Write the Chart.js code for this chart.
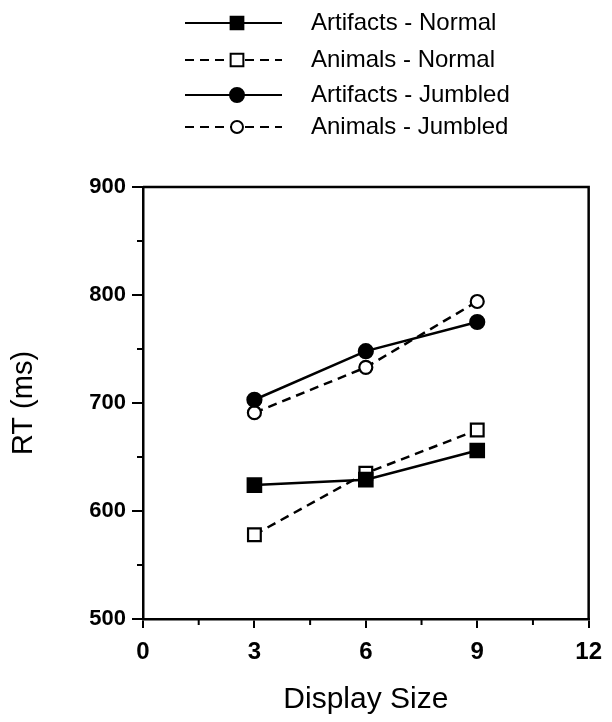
<!DOCTYPE html>
<html lang="en">
<head>
    <meta charset="UTF-8">
    <title>RT by Display Size</title>
    <script src="https://cdn.jsdelivr.net/npm/chart.js"></script>
    <style>
        html, body { margin: 0; padding: 0; background: #fff; }
        #wrap { width: 612px; height: 722px; }
    </style>
</head>
<body>
    <div id="wrap"><canvas id="rtChart" width="612" height="722"></canvas></div>

    <script>
        // values
        const displaySizes = [3, 6, 9];
        const artifactsNormal = [624, 629, 656];
        const animalsNormal = [578, 635, 675];
        const artifactsJumbled = [703, 748, 775];
        const animalsJumbled = [691, 733, 794];

        const seriesNames = ['Artifacts - Normal', 'Animals - Normal', 'Artifacts - Jumbled', 'Animals - Jumbled'];
        const xMajorTicks = [0, 3, 6, 9, 12];
        const xMinorTicks = [1.5, 4.5, 7.5, 10.5];
        const yMajorTicks = [500, 600, 700, 800, 900];
        const yMinorTicks = [550, 650, 750, 850];

        const FONT = '"Liberation Sans", Arial, Helvetica, sans-serif';

        function toPoints(ys) {
            return displaySizes.map((x, i) => ({ x: x, y: ys[i] }));
        }

        function makeSet(label, ys, style, filled, dashed, radius) {
            return {
                label: label,
                data: toPoints(ys),
                showLine: true,
                borderColor: '#000',
                borderWidth: 2.5,
                borderDash: dashed ? [9, 6] : [],
                pointStyle: style,
                pointRadius: radius,
                pointBorderWidth: 2.2,
                pointBorderColor: '#000',
                pointBackgroundColor: filled ? '#000' : '#fff'
            };
        }

        // legend rows, box border and minor ticks
        const extras = {
            id: 'extras',
            afterDraw(chart) {
                const ctx = chart.ctx;
                const a = chart.chartArea;
                const xs = chart.scales.x, ys = chart.scales.y;
                ctx.save();
                ctx.strokeStyle = '#000';
                ctx.lineWidth = 2.5;
                ctx.beginPath();
                ctx.moveTo(a.left, a.top);
                ctx.lineTo(a.right, a.top);
                ctx.lineTo(a.right, a.bottom);
                ctx.stroke();

                ctx.lineWidth = 2;
                ctx.beginPath();
                yMinorTicks.forEach(v => {
                    const py = ys.getPixelForValue(v);
                    ctx.moveTo(a.left - 6, py);
                    ctx.lineTo(a.left, py);
                });
                xMinorTicks.forEach(v => {
                    const px = xs.getPixelForValue(v);
                    ctx.moveTo(px, a.bottom);
                    ctx.lineTo(px, a.bottom + 6);
                });
                ctx.stroke();

                // legend
                const rowY = [23, 60, 95, 127];
                chart.data.datasets.forEach((ds, i) => {
                    const y = rowY[i];
                    ctx.setLineDash(ds.borderDash);
                    ctx.lineWidth = 2;
                    ctx.beginPath();
                    ctx.moveTo(185, y);
                    ctx.lineTo(282, y);
                    ctx.stroke();
                    ctx.setLineDash([]);
                    ctx.fillStyle = ds.pointBackgroundColor;
                    ctx.lineWidth = 2;
                    Chart.helpers.drawPoint(ctx, {
                        pointStyle: ds.pointStyle,
                        radius: ds.pointStyle === 'rect' ? 9 : (i === 2 ? 7 : 6),
                        rotation: 0,
                        borderWidth: 2
                    }, 237, y);
                    ctx.fillStyle = '#000';
                    ctx.font = '24px ' + FONT;
                    ctx.textBaseline = 'middle';
                    ctx.textAlign = 'left';
                    ctx.fillText(seriesNames[i], 311, y);
                });
                ctx.restore();
            }
        };

        new Chart(document.getElementById('rtChart'), {
            type: 'scatter',
            data: {
                datasets: [
                    makeSet(seriesNames[0], artifactsNormal, 'rect', true, false, 9.5),
                    makeSet(seriesNames[1], animalsNormal, 'rect', false, true, 9),
                    makeSet(seriesNames[2], artifactsJumbled, 'circle', true, false, 7),
                    makeSet(seriesNames[3], animalsJumbled, 'circle', false, true, 6.5)
                ]
            },
            options: {
                responsive: false,
                animation: false,
                layout: { padding: { top: 187, right: 21, left: 0, bottom: 0 } },
                plugins: { legend: { display: false }, tooltip: { enabled: false } },
                scales: {
                    x: {
                        type: 'linear',
                        min: 0,
                        max: 12,
                        afterBuildTicks: s => { s.ticks = xMajorTicks.map(v => ({ value: v })); },
                        afterFit: s => { s.height = 103; },
                        ticks: { color: '#000', font: { family: FONT, size: 24, weight: 'bold' }, padding: 10, maxRotation: 0 },
                        grid: { drawOnChartArea: false, drawTicks: true, tickLength: 9, color: '#000', lineWidth: 2 },
                        border: { display: true, color: '#000', width: 2.5 },
                        title: { display: true, text: 'Display Size', color: '#000', font: { family: FONT, size: 30 }, padding: { top: 0, bottom: 4 } }
                    },
                    y: {
                        min: 500,
                        max: 900,
                        afterBuildTicks: s => { s.ticks = yMajorTicks.map(v => ({ value: v })); },
                        afterFit: s => { s.width = 143; },
                        ticks: { color: '#000', font: { family: FONT, size: 22, weight: 'bold' }, padding: 6 },
                        grid: { drawOnChartArea: false, drawTicks: true, tickLength: 11, color: '#000', lineWidth: 2 },
                        border: { display: true, color: '#000', width: 2.5 },
                        title: { display: true, text: 'RT (ms)', color: '#000', font: { family: FONT, size: 29 }, padding: { top: 7, bottom: 0 } }
                    }
                }
            },
            plugins: [extras]
        });
    </script>
</body>
</html>
